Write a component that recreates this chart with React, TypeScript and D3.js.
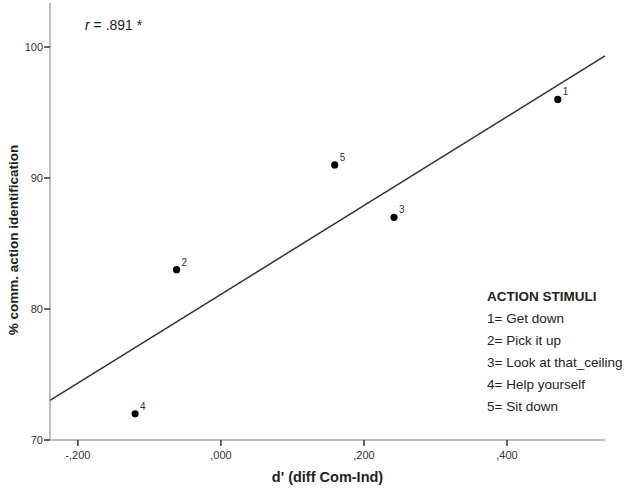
import React from "react";
import * as d3 from "d3";

// d' (diff Com-Ind) vs % comm. action identification, one point per stimulus
const ids = ["1", "2", "3", "4", "5"];
const dPrime = [0.471, -0.062, 0.242, -0.12, 0.159];
const identPct = [96, 83, 87, 72, 91];

const xTicks = [-0.2, 0, 0.2, 0.4];
const yTicks = [70, 80, 90, 100];

const legendTitle = "ACTION STIMULI";
const legendItems = [
  "1= Get down",
  "2= Pick it up",
  "3= Look at that_ceiling",
  "4= Help yourself",
  "5= Sit down",
];

const W = 629;
const H = 489;
const margin = { top: 3, right: 24, bottom: 49, left: 50 };
const font = "'Liberation Sans', Arial, sans-serif";

const fmtX = (v: number) => {
  // SPSS style: comma decimal, no leading zero
  const s = Math.abs(v).toFixed(3).replace("0.", ",");
  return (v < 0 ? "-" : "") + s;
};

const App = () => {
  const x = d3
    .scaleLinear()
    .domain([-0.239, 0.537])
    .range([margin.left, W - margin.right]);
  const y = d3
    .scaleLinear()
    .domain([70, 103.36])
    .range([H - margin.bottom, margin.top]);

  // least squares fit line
  const n = dPrime.length;
  const mx = d3.mean(dPrime) as number;
  const my = d3.mean(identPct) as number;
  let sxy = 0;
  let sxx = 0;
  for (let i = 0; i < n; i++) {
    sxy += (dPrime[i] - mx) * (identPct[i] - my);
    sxx += (dPrime[i] - mx) ** 2;
  }
  const slope = sxy / sxx;
  const icpt = my - slope * mx;
  const [x0, x1] = x.domain();
  const fit = d3.line<number>()
    .x((d) => x(d))
    .y((d) => y(icpt + slope * d))([x0, x1]);

  const bottom = H - margin.bottom;
  const legendX = 487;

  return (
    <svg width={W} height={H} style={{ position: "absolute", left: 0, top: 0 }} fontFamily={font}>
      <rect width={W} height={H} fill="#fff" />

      {/* axes */}
      <line x1={margin.left} x2={margin.left} y1={margin.top} y2={bottom} stroke="#a8a8a8" strokeWidth={1.5} />
      <line x1={margin.left} x2={W - margin.right} y1={bottom} y2={bottom} stroke="#a8a8a8" strokeWidth={1.5} />

      {yTicks.map((t) => (
        <g key={t}>
          <line x1={margin.left - 6} x2={margin.left} y1={y(t)} y2={y(t)} stroke="#333" strokeWidth={1.5} />
          <text x={margin.left - 7} y={y(t)} dy="0.35em" textAnchor="end" fontSize={11} fill="#333">
            {t}
          </text>
        </g>
      ))}
      {xTicks.map((t) => (
        <g key={t}>
          <line x1={x(t)} x2={x(t)} y1={bottom} y2={bottom + 6} stroke="#333" strokeWidth={1.5} />
          <text x={x(t)} y={bottom + 19} textAnchor="middle" fontSize={11} fill="#333">
            {fmtX(t)}
          </text>
        </g>
      ))}

      <text x={(margin.left + W - margin.right) / 2} y={482} textAnchor="middle" fontSize={14.5} fontWeight="bold" fill="#222">
        d' (diff Com-Ind)
      </text>
      <text
        transform={`translate(18, 240) rotate(-90)`}
        textAnchor="middle"
        fontSize={13.5}
        fontWeight="bold"
        fill="#222"
      >
        % comm. action identification
      </text>

      {/* fit line */}
      <path d={fit || ""} fill="none" stroke="#333" strokeWidth={1.5} />

      {/* points */}
      {ids.map((id, i) => (
        <g key={id}>
          <circle cx={x(dPrime[i])} cy={y(identPct[i])} r={3.6} fill="#000" />
          <text x={x(dPrime[i]) + 5} y={y(identPct[i]) - 4} fontSize={10} fill="#333">
            {id}
          </text>
        </g>
      ))}

      <text x={85} y={30} fontSize={14} fill="#222">
        <tspan fontStyle="italic">r</tspan> = .891 *
      </text>

      {/* legend */}
      <text x={legendX} y={301} fontSize={13.5} fontWeight="bold" fill="#222">
        {legendTitle}
      </text>
      {legendItems.map((s, i) => (
        <text key={s} x={legendX} y={323 + i * 22} fontSize={13.5} fill="#222">
          {s}
        </text>
      ))}
    </svg>
  );
};

export default App;
